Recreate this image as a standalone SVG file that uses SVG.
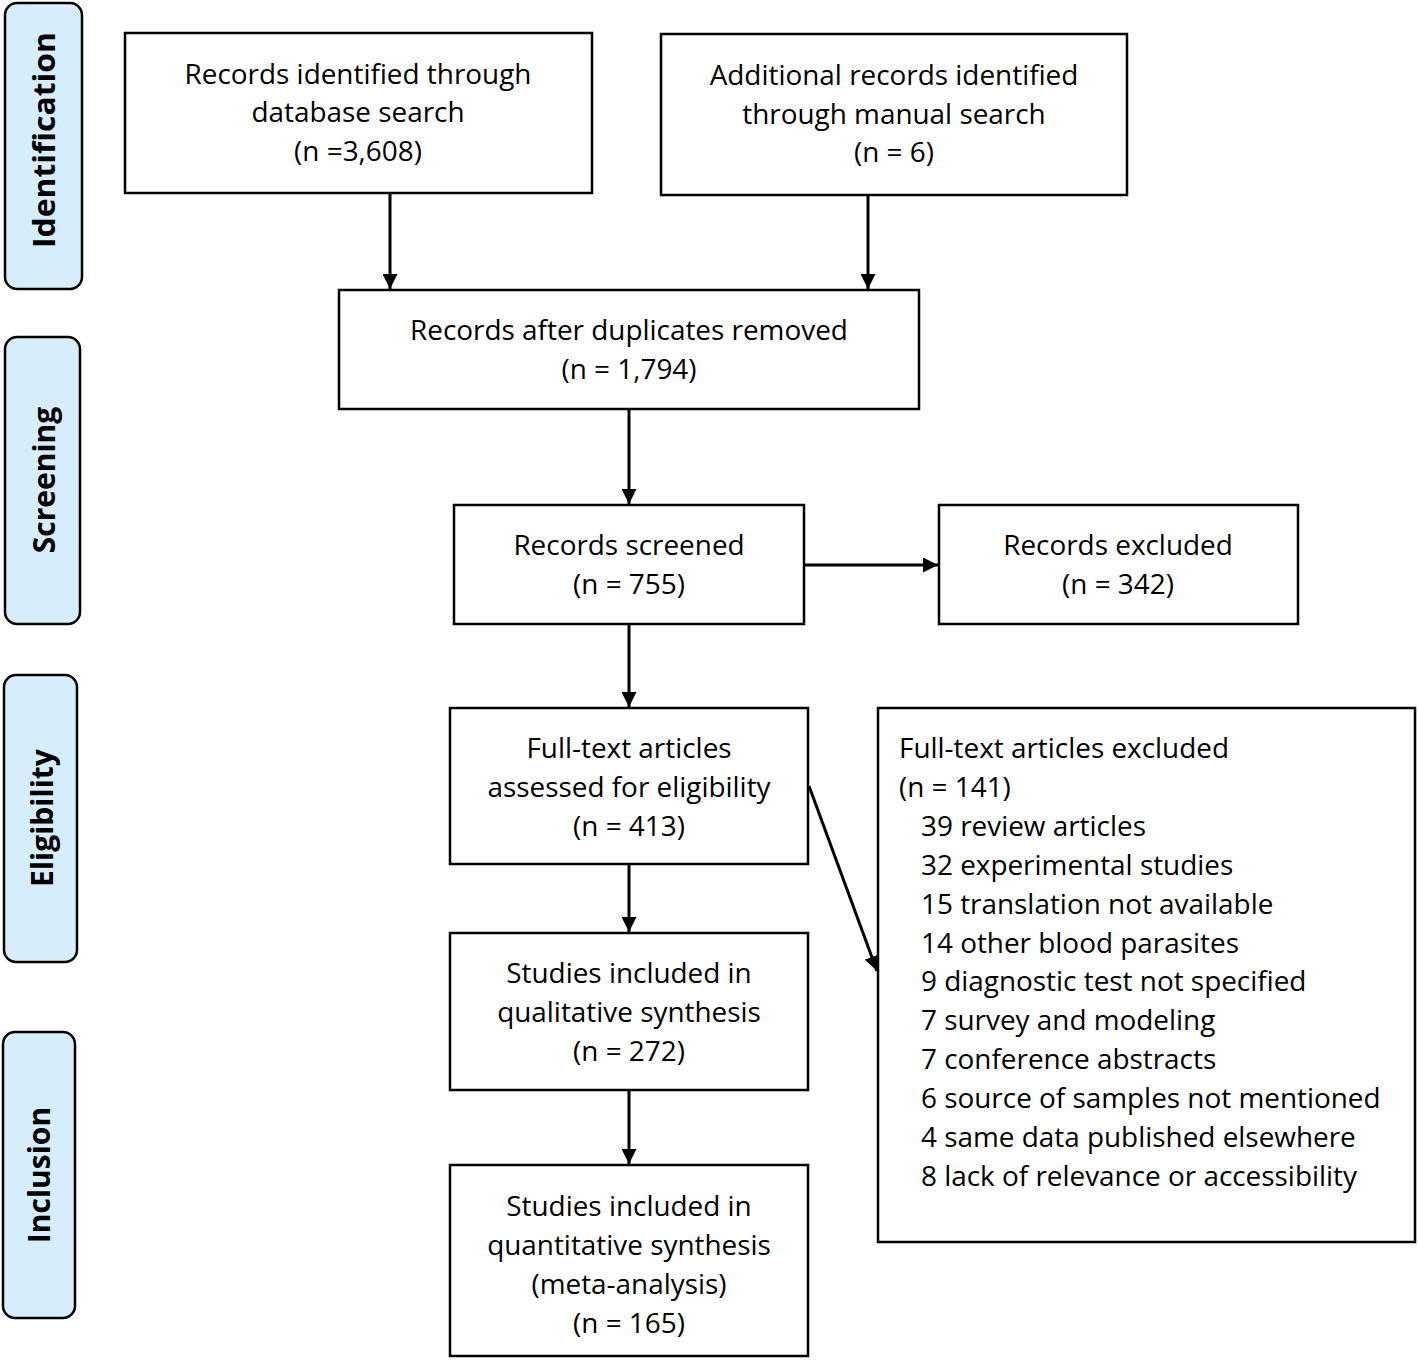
<svg xmlns="http://www.w3.org/2000/svg" width="1418" height="1360" viewBox="0 0 1418 1360">
<style>
.box{fill:#fff;stroke:#000;stroke-width:2.5}
.side{fill:#d6eefb;stroke:#000;stroke-width:2.5}
.t{font-family:"Open Sans","Noto Sans",sans-serif;font-size:27.9px;fill:#000}
.c{text-anchor:middle}
.s{font-family:"Open Sans","Noto Sans",sans-serif;font-weight:bold;font-size:30px;text-anchor:middle;fill:#000}
.ln{stroke:#000;stroke-width:3;fill:none;marker-end:url(#ah)}
</style>
<defs>
<marker id="ah" viewBox="0 0 10 10" refX="10" refY="5" markerWidth="5" markerHeight="5" markerUnits="strokeWidth" orient="auto">
<path d="M0,0 L10,5 L0,10 z" fill="#000"/>
</marker>
</defs>
<rect width="1418" height="1360" fill="#fff"/>
<g id="side-identification"><rect class="side" x="5" y="3" width="77" height="286" rx="12"/><text class="s" transform="translate(55,140) rotate(-90)" textLength="216" lengthAdjust="spacingAndGlyphs">Identification</text></g>
<g id="side-screening"><rect class="side" x="5" y="337" width="75" height="287" rx="12"/><text class="s" transform="translate(55,480) rotate(-90)">Screening</text></g>
<g id="side-eligibility"><rect class="side" x="4" y="675" width="73" height="287" rx="12"/><text class="s" transform="translate(53,818) rotate(-90)">Eligibility</text></g>
<g id="side-inclusion"><rect class="side" x="3" y="1032" width="72" height="286" rx="12"/><text class="s" transform="translate(50,1175) rotate(-90)">Inclusion</text></g>

<g id="n-database"><rect class="box" x="125" y="33" width="467" height="160"/>
<text class="t c" x="358" y="84">Records identified through</text>
<text class="t c" x="358" y="122">database search</text>
<text class="t c" x="358" y="161">(n =3,608)</text></g>
<g id="n-manual"><rect class="box" x="661" y="34" width="466" height="161"/>
<text class="t c" x="894" y="85">Additional records identified</text>
<text class="t c" x="894" y="124">through manual search</text>
<text class="t c" x="894" y="162">(n = 6)</text></g>
<g id="n-duplicates"><rect class="box" x="339" y="290" width="580" height="119"/>
<text class="t c" x="629" y="340">Records after duplicates removed</text>
<text class="t c" x="629" y="379">(n = 1,794)</text></g>
<g id="n-screened"><rect class="box" x="454" y="505" width="350" height="119"/>
<text class="t c" x="629" y="555">Records screened</text>
<text class="t c" x="629" y="594">(n = 755)</text></g>
<g id="n-excluded"><rect class="box" x="939" y="505" width="359" height="119"/>
<text class="t c" x="1118" y="555">Records excluded</text>
<text class="t c" x="1118" y="594">(n = 342)</text></g>
<g id="n-fulltext"><rect class="box" x="450" y="708" width="358" height="156"/>
<text class="t c" x="629" y="758">Full-text articles</text>
<text class="t c" x="629" y="797">assessed for eligibility</text>
<text class="t c" x="629" y="836">(n = 413)</text></g>
<g id="n-qualitative"><rect class="box" x="450" y="933" width="358" height="157"/>
<text class="t c" x="629" y="983">Studies included in</text>
<text class="t c" x="629" y="1022">qualitative synthesis</text>
<text class="t c" x="629" y="1061">(n = 272)</text></g>
<g id="n-quantitative"><rect class="box" x="450" y="1165" width="358" height="191"/>
<text class="t c" x="629" y="1216">Studies included in</text>
<text class="t c" x="629" y="1255">quantitative synthesis</text>
<text class="t c" x="629" y="1294">(meta-analysis)</text>
<text class="t c" x="629" y="1333">(n = 165)</text></g>
<g id="n-ftexcluded"><rect class="box" x="878" y="708" width="537" height="534"/>
<text class="t" x="899" y="758">Full-text articles excluded</text>
<text class="t" x="899" y="797">(n = 141)</text>
<text class="t" x="921" y="836">39 review articles</text>
<text class="t" x="921" y="875">32 experimental studies</text>
<text class="t" x="921" y="914">15 translation not available</text>
<text class="t" x="921" y="953">14 other blood parasites</text>
<text class="t" x="921" y="991">9 diagnostic test not specified</text>
<text class="t" x="921" y="1030">7 survey and modeling</text>
<text class="t" x="921" y="1069">7 conference abstracts</text>
<text class="t" x="921" y="1108">6 source of samples not mentioned</text>
<text class="t" x="921" y="1147">4 same data published elsewhere</text>
<text class="t" x="921" y="1186">8 lack of relevance or accessibility</text></g>

<g id="connectors">
<line class="ln" x1="390" y1="194" x2="390" y2="289"/>
<line class="ln" x1="868" y1="196" x2="868" y2="289"/>
<line class="ln" x1="629" y1="410" x2="629" y2="504"/>
<line class="ln" x1="805" y1="565" x2="938" y2="565"/>
<line class="ln" x1="629" y1="625" x2="629" y2="707"/>
<line class="ln" x1="809" y1="786" x2="877" y2="971"/>
<line class="ln" x1="629" y1="865" x2="629" y2="932"/>
<line class="ln" x1="629" y1="1091" x2="629" y2="1164"/>
</g>
</svg>
